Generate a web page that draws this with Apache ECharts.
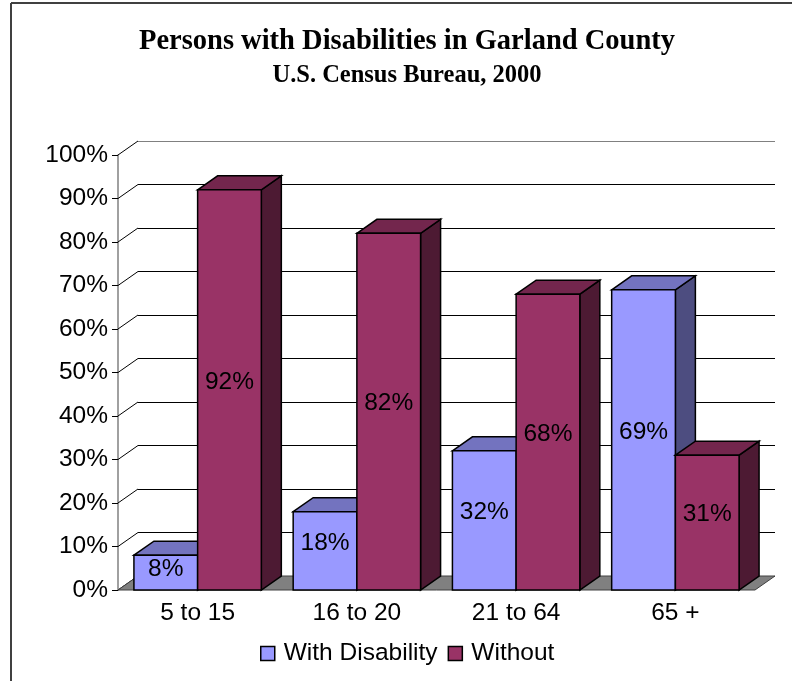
<!DOCTYPE html>
<html>
<head>
<meta charset="utf-8">
<title>Persons with Disabilities in Garland County</title>
<script src="https://cdn.jsdelivr.net/npm/echarts@6/dist/echarts.min.js"></script>
<style>
  html, body { margin: 0; padding: 0; background: #fff; }
  #chart { width: 792px; height: 681px; }
</style>
</head>
<body>
<div id="chart"></div>
<script>
// Age groups and the share of each group with / without a disability (percent)
const categories = ['5 to 15', '16 to 20', '21 to 64', '65 +'];
const withDisability = [8, 18, 32, 69];
const withoutDisability = [92, 82, 68, 31];
const seriesNames = ['With Disability', 'Without'];
const yTicks = [0, 10, 20, 30, 40, 50, 60, 70, 80, 90, 100];

// 3D look: how far the back wall sits from the front plane
const DEPTH_X = 20;
const DEPTH_Y = -14;

const FACE = {
  blue: { front: '#9999FF', top: '#7373BF', side: '#4D4D80' },
  red:  { front: '#993366', top: '#73264D', side: '#4D1A33' }
};
const FONT_SIZE = 24.5;
const LABEL_FONT = FONT_SIZE + 'px "Liberation Sans", Arial, sans-serif';

function poly(points, fill) {
  return {
    type: 'polygon',
    shape: { points: points },
    style: { fill: fill, stroke: '#000', lineWidth: 1.5, lineJoin: 'miter' }
  };
}

// One 3D column: front face, top face, right side face and a value label
function barRenderer(slot, colors) {
  return function (params, api) {
    const cat = api.value(0);
    const val = api.value(1);
    const base = api.coord([cat, 0]);
    const top = api.coord([cat, val]);
    const band = api.size([1, 0])[0];
    const w = band * 0.4;
    const x0 = slot === 0 ? base[0] - w : base[0];
    const x1 = x0 + w;
    const yb = base[1];
    const yt = top[1];
    const mid = (yt + yb) / 2;
    // label sits a little above the middle of the front face; short columns keep it inside
    const lift = Math.max(0, Math.min(8, (yb - yt) / 2 - 14));
    return {
      type: 'group',
      children: [
        poly([[x1, yt], [x1 + DEPTH_X, yt + DEPTH_Y], [x1 + DEPTH_X, yb + DEPTH_Y], [x1, yb]], colors.side),
        poly([[x0, yt], [x0 + DEPTH_X, yt + DEPTH_Y], [x1 + DEPTH_X, yt + DEPTH_Y], [x1, yt]], colors.top),
        poly([[x0, yt], [x1, yt], [x1, yb], [x0, yb]], colors.front),
        {
          type: 'text',
          style: {
            text: val + '%',
            x: (x0 + x1) / 2,
            y: mid - lift,
            align: 'center',
            verticalAlign: 'middle',
            font: LABEL_FONT,
            fill: '#000'
          }
        }
      ]
    };
  };
}

const chart = echarts.init(document.getElementById('chart'), null, { renderer: 'canvas' });

const gridLineColors = yTicks.map(function (t, i) { return i === yTicks.length - 1 ? '#808080' : '#000'; });

chart.setOption({
  backgroundColor: '#fff',
  animation: false,
  grid: [
    // front plane: bars and axis labels
    { left: 118, top: 155, width: 637, height: 435 },
    // back wall: horizontal gridlines
    { left: 118 + DEPTH_X, top: 155 + DEPTH_Y, width: 637, height: 435 }
  ],
  xAxis: [
    {
      gridIndex: 0,
      type: 'category',
      data: categories,
      axisLine: { show: false },
      axisTick: { show: false },
      axisLabel: { margin: 11, fontSize: FONT_SIZE, fontFamily: 'Liberation Sans', color: '#000' }
    },
    { gridIndex: 1, type: 'category', data: categories, show: false }
  ],
  yAxis: [
    {
      gridIndex: 0,
      type: 'value',
      min: 0, max: 100, interval: 10,
      splitLine: { show: false },
      axisLine: { show: true, lineStyle: { color: '#808080', width: 1.5 } },
      axisTick: { show: true, length: 6, lineStyle: { color: '#000' } },
      axisLabel: { margin: 10, fontSize: FONT_SIZE, fontFamily: 'Liberation Sans', color: '#000', formatter: '{value}%' }
    },
    {
      gridIndex: 1,
      type: 'value',
      min: 0, max: 100, interval: 10,
      axisLine: { show: false },
      axisTick: { show: false },
      axisLabel: { show: false },
      splitLine: { show: true, lineStyle: { color: gridLineColors, width: 1.2 } }
    }
  ],
  legend: {
    data: seriesNames,
    left: 255,
    top: 636,
    itemWidth: 14,
    itemHeight: 14,
    itemGap: 10,
    icon: 'rect',
    itemStyle: { borderColor: '#000', borderWidth: 1.5 },
    textStyle: { fontSize: FONT_SIZE, fontFamily: 'Liberation Sans', color: '#000', padding: [0, 0, 0, 4] }
  },
  graphic: [
    { type: 'line', shape: { x1: 11, y1: 3, x2: 792, y2: 3 }, style: { stroke: '#404040', lineWidth: 2 } },
    { type: 'line', shape: { x1: 11, y1: 3, x2: 11, y2: 681 }, style: { stroke: '#404040', lineWidth: 2 } },
    {
      type: 'text', x: 407, y: 42,
      style: {
        text: 'Persons with Disabilities in Garland County',
        align: 'center', verticalAlign: 'middle',
        font: 'bold 28.5px "Liberation Serif", "Times New Roman", serif', fill: '#000'
      }
    },
    {
      type: 'text', x: 407, y: 76,
      style: {
        text: 'U.S. Census Bureau, 2000',
        align: 'center', verticalAlign: 'middle',
        font: 'bold 24.5px "Liberation Serif", "Times New Roman", serif', fill: '#000'
      }
    }
  ],
  series: [
    {
      // left wall: short diagonals joining each front tick to its back gridline
      type: 'custom',
      name: 'wall',
      xAxisIndex: 0, yAxisIndex: 0,
      data: yTicks.map(function (t) { return [0, t]; }),
      silent: true,
      renderItem: function (params, api) {
        const y = api.coord([0, api.value(1)])[1];
        const x = params.coordSys.x;
        return {
          type: 'line',
          shape: { x1: x, y1: y, x2: x + DEPTH_X, y2: y + DEPTH_Y },
          style: { stroke: '#000', lineWidth: 1 }
        };
      }
    },
    {
      // floor
      type: 'custom',
      name: 'floor',
      xAxisIndex: 0, yAxisIndex: 0,
      data: [[0, 0]],
      silent: true,
      renderItem: function (params, api) {
        const cs = params.coordSys;
        const y = api.coord([0, 0])[1];
        return {
          type: 'polygon',
          shape: { points: [[cs.x, y], [cs.x + cs.width, y], [cs.x + cs.width + DEPTH_X, y + DEPTH_Y], [cs.x + DEPTH_X, y + DEPTH_Y]] },
          style: { fill: '#808080', stroke: '#404040', lineWidth: 1 }
        };
      }
    },
    {
      type: 'custom',
      name: seriesNames[0],
      xAxisIndex: 0, yAxisIndex: 0,
      clip: false,
      itemStyle: { color: FACE.blue.front, borderColor: '#000', borderWidth: 1.5 },
      data: withDisability.map(function (v, i) { return [i, v]; }),
      renderItem: barRenderer(0, FACE.blue)
    },
    {
      type: 'custom',
      name: seriesNames[1],
      xAxisIndex: 0, yAxisIndex: 0,
      clip: false,
      itemStyle: { color: FACE.red.front, borderColor: '#000', borderWidth: 1.5 },
      data: withoutDisability.map(function (v, i) { return [i, v]; }),
      renderItem: barRenderer(1, FACE.red)
    }
  ]
});
</script>
</body>
</html>
